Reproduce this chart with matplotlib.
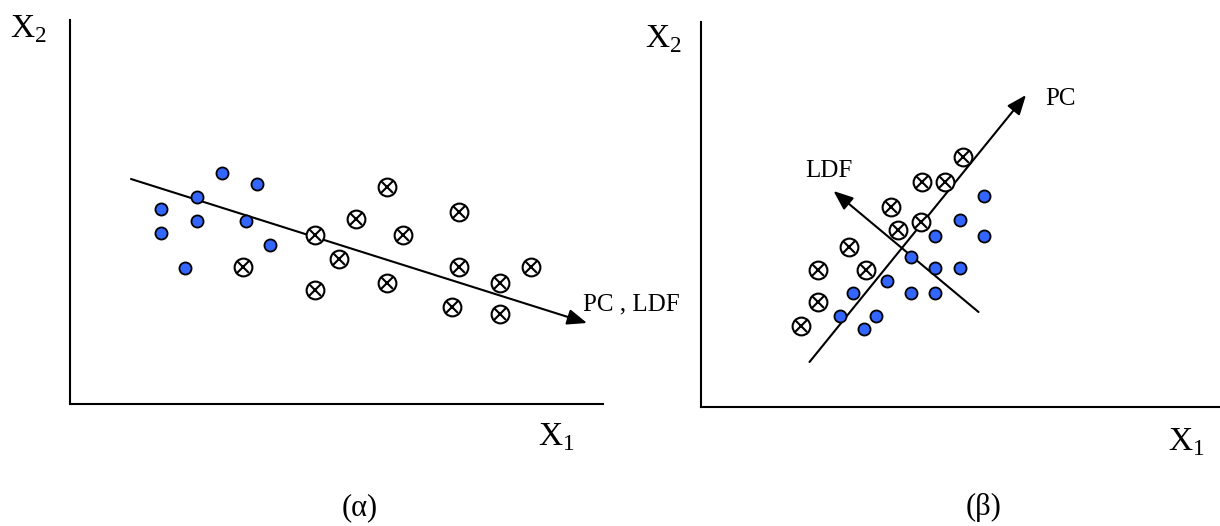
import matplotlib
matplotlib.use("Agg")
import matplotlib.pyplot as plt

plt.rcParams['font.family'] = ['Liberation Serif', 'DejaVu Serif']
plt.rcParams['mathtext.fontset'] = 'custom'
plt.rcParams['mathtext.rm'] = 'Liberation Serif'

BLUE = '#3366ff'

# panel (alpha): values in axis units (origin at the axes corner)
a_blue_x = [152, 187, 127, 91, 127, 176, 91, 200, 115]
a_blue_y = [231, 220, 207, 195, 183, 183, 171, 159, 136]
a_cross_x = [317, 286, 389, 245, 333, 269, 389, 461, 430, 317, 245, 382, 430, 173]
a_cross_y = [217, 185, 192, 169, 169, 145, 137, 137, 121, 121, 114, 97, 90, 137]
a_pc_ldf = [(61, 225), (517, 81)]

# panel (beta)
b_blue_x = [283, 259, 234.5, 283, 210.5, 234.5, 259, 186, 152, 210.5, 234.5, 139, 175.5, 163]
b_blue_y = [211, 187, 171, 171, 150, 139, 139, 126, 114, 114, 114, 91, 91, 78]
b_cross_x = [262, 221, 244, 190, 220.5, 197, 148.5, 117, 165, 117, 100.5]
b_cross_y = [250, 225, 225, 200, 185, 177, 160, 137, 137, 105, 81]
b_pc = [(109, 45), (325.5, 312)]
b_ldf = [(278, 95), (133, 216)]


def style_axes(ax, xmax, ymax):
    ax.set_xlim(0, xmax)
    ax.set_ylim(0, ymax)
    for s in ['top', 'right']:
        ax.spines[s].set_visible(False)
    for s in ['left', 'bottom']:
        ax.spines[s].set_linewidth(1.5)
    ax.set_xticks([])
    ax.set_yticks([])
    ax.patch.set_alpha(0)


def draw_points(ax, bx, by, cx, cy):
    ax.plot(bx, by, 'o', ms=8.7, mfc=BLUE, mec='black', mew=1.3, clip_on=False)
    ax.plot(cx, cy, 'o', ms=12.8, mfc='white', mec='black', mew=1.5, clip_on=False, zorder=3)
    ax.plot(cx, cy, 'x', ms=8.8, mec='black', mew=1.5, clip_on=False, zorder=4)


def arrow(ax, seg):
    ax.annotate('', xy=seg[1], xytext=seg[0],
                arrowprops=dict(arrowstyle='-|>,head_length=0.7,head_width=0.28',
                                mutation_scale=17, lw=1.5, color='black',
                                shrinkA=0, shrinkB=0), zorder=2)


W, H = 1220, 526
fig = plt.figure(figsize=(12.2, 5.26), dpi=100)

ax1 = fig.add_axes([70 / W, (H - 404) / H, 533 / W, 384 / H])
style_axes(ax1, 533, 384)
arrow(ax1, a_pc_ldf)
draw_points(ax1, a_blue_x, a_blue_y, a_cross_x, a_cross_y)
ax1.text(513, 94, 'PC , LDF', fontsize=18, va='baseline')
ax1.text(-60, 367, r'$\mathrm{X}_{2}$', fontsize=24, va='baseline')
ax1.text(468, -41, r'$\mathrm{X}_{1}$', fontsize=24, va='baseline')

ax2 = fig.add_axes([700.5 / W, (H - 407) / H, 519.5 / W, 385 / H])
style_axes(ax2, 519.5, 385)
arrow(ax2, b_pc)
arrow(ax2, b_ldf)
draw_points(ax2, b_blue_x, b_blue_y, b_cross_x, b_cross_y)
ax2.text(344.5, 302, 'PC', fontsize=18, va='baseline')
ax2.text(104.5, 230, 'LDF', fontsize=18, va='baseline')
ax2.text(-55.5, 360, r'$\mathrm{X}_{2}$', fontsize=24, va='baseline')
ax2.text(467.5, -43, r'$\mathrm{X}_{1}$', fontsize=24, va='baseline')

fig.text(360 / W, (H - 515) / H, '(α)', fontsize=22, ha='center', va='baseline')
fig.text(984 / W, (H - 515) / H, '(β)', fontsize=22, ha='center', va='baseline')

fig.savefig('out.png', dpi=100)
